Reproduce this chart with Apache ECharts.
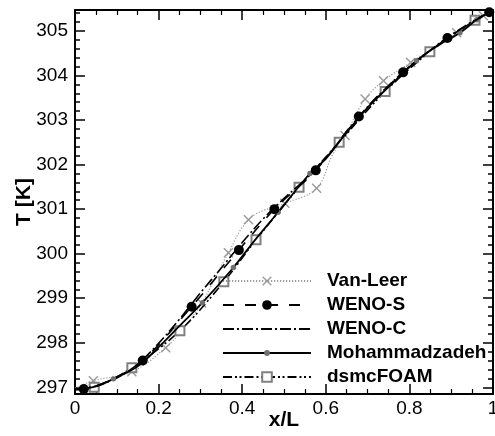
<!DOCTYPE html>
<html>
<head>
<meta charset="utf-8">
<script src="https://cdn.jsdelivr.net/npm/echarts@6/dist/echarts.min.js"></script>
<style>
  html, body { margin: 0; padding: 0; background: #fff; }
  #chart { width: 495px; height: 436px; }
</style>
</head>
<body>
<div id="chart"></div>
<script>
// Tick values
const xTicks = [0, 0.2, 0.4, 0.6, 0.8, 1];
const yTicks = [297, 298, 299, 300, 301, 302, 303, 304, 305];

// Van-Leer (dotted, x markers)
const vanLeerX = [0, 0.044, 0.136, 0.217, 0.259, 0.303, 0.367, 0.415, 0.474, 0.502, 0.578, 0.615, 0.646, 0.694, 0.738, 0.803, 0.913, 0.977, 1.0];
const vanLeerY = [296.98, 297.15, 297.35, 297.89, 298.33, 298.89, 300.02, 300.76, 301.06, 301.13, 301.47, 302.2, 302.65, 303.47, 303.88, 304.29, 304.96, 305.34, 305.45];
const vanLeerMark = [0, 1, 1, 1, 0, 1, 1, 1, 0, 1, 1, 0, 1, 1, 1, 1, 1, 1, 0];

// WENO-S (dashed, filled circles)
const wenoSX = [0, 0.021, 0.09, 0.162, 0.279, 0.392, 0.477, 0.576, 0.679, 0.785, 0.891, 0.991, 1.0];
const wenoSY = [296.95, 296.96, 297.19, 297.6, 298.81, 300.08, 301.0, 301.87, 303.08, 304.07, 304.84, 305.42, 305.46];
const wenoSMark = [0, 1, 0, 1, 1, 1, 1, 1, 1, 1, 1, 1, 0];

// WENO-C (dash-dot, no markers)
const wenoCX = [0, 0.05, 0.1, 0.15, 0.2, 0.25, 0.3, 0.35, 0.4, 0.45, 0.5, 0.55, 0.6, 0.65, 0.7, 0.75, 0.8, 0.85, 0.9, 0.95, 1.0];
const wenoCY = [296.95, 297.03, 297.21, 297.52, 297.99, 298.53, 299.12, 299.68, 300.25, 300.78, 301.24, 301.66, 302.15, 302.74, 303.3, 303.77, 304.2, 304.57, 304.91, 305.21, 305.47];

// Mohammadzadeh (solid, small dots)
const mohX = [0, 0.05, 0.092, 0.15, 0.2, 0.25, 0.305, 0.379, 0.43, 0.486, 0.562, 0.6, 0.65, 0.7, 0.75, 0.817, 0.87, 0.921, 0.961, 1.0];
const mohY = [296.95, 297.02, 297.19, 297.47, 297.9, 298.38, 298.9, 299.69, 300.3, 300.93, 301.8, 302.13, 302.72, 303.28, 303.74, 304.33, 304.68, 304.96, 305.25, 305.46];
const mohMark = [0, 0, 1, 0, 0, 0, 1, 1, 0, 1, 1, 0, 0, 0, 0, 1, 0, 1, 1, 0];

// dsmcFOAM (dash-dot-dot, open squares)
const dsmcX = [0, 0.046, 0.136, 0.251, 0.356, 0.433, 0.536, 0.632, 0.742, 0.849, 0.957, 1.0];
const dsmcY = [296.95, 297.0, 297.44, 298.27, 299.37, 300.31, 301.49, 302.5, 303.64, 304.53, 305.24, 305.46];
const dsmcMark = [0, 1, 1, 1, 1, 1, 1, 1, 1, 1, 1, 0];

const yMin = 296.85, yMax = 305.47;
const FONT = '"Liberation Sans", Arial, Helvetica, sans-serif';

// minor y ticks every 0.2 K between the integer ticks
const yMinor = [];
for (let k = Math.ceil(yMin * 5); k <= Math.floor(yMax * 5); k++) {
  if (k % 5 !== 0) yMinor.push(k / 5);
}

function pts(xs, ys, marks) {
  return xs.map((x, i) => (!marks || marks[i]) ? [x, ys[i]] : { value: [x, ys[i]], symbol: 'none' });
}

const crossPath = 'path://M0,1L1,0L5,4L9,0L10,1L6,5L10,9L9,10L5,6L1,10L0,9L4,5Z';
const dotPath = 'path://M0,0M10,10M8,5A3,3,0,1,1,2,5A3,3,0,1,1,8,5Z';

function yAxisDef(pos, ticks, len, withLine, withLabels) {
  return {
    type: 'value', position: pos, min: yMin, max: yMax,
    axisLine: { show: withLine, onZero: false, lineStyle: { color: '#000', width: 2 } },
    axisTick: { show: true, inside: true, length: len, customValues: ticks, lineStyle: { color: '#000', width: 1.5 } },
    axisLabel: withLabels
      ? { show: true, customValues: yTicks, fontSize: 19, color: '#000', fontFamily: FONT, margin: 7 }
      : { show: false },
    splitLine: { show: false },
    minorTick: { show: false }
  };
}

function xAxisDef(pos, withLabels) {
  const a = {
    type: 'value', position: pos, min: 0, max: 1, interval: 0.2,
    axisLine: { show: true, onZero: false, lineStyle: { color: '#000', width: 2 } },
    axisTick: { show: true, inside: true, length: 10, lineStyle: { color: '#000', width: 1.5 } },
    minorTick: { show: true, splitNumber: 4, length: 5, lineStyle: { color: '#000', width: 1.2 } },
    axisLabel: withLabels
      ? { show: true, fontSize: 19, color: '#000', fontFamily: FONT, margin: 5,
          formatter: v => String(xTicks.find(t => Math.abs(t - v) < 1e-9) ?? v) }
      : { show: false },
    splitLine: { show: false }
  };
  if (withLabels) {
    a.name = 'x/L';
    a.nameLocation = 'middle';
    a.nameGap = 16;
    a.nameMoveOverlap = false;
    a.nameTextStyle = { fontSize: 21, fontWeight: 'bold', color: '#000', fontFamily: FONT };
  }
  return a;
}

const yLeft = yAxisDef('left', yTicks, 10, true, true);
yLeft.name = 'T [K]';
yLeft.nameLocation = 'middle';
yLeft.nameRotate = 90;
yLeft.nameGap = 40;
yLeft.nameMoveOverlap = false;
yLeft.nameTextStyle = { fontSize: 21, fontWeight: 'bold', color: '#000', fontFamily: FONT };

const common = { type: 'line', xAxisIndex: 0, yAxisIndex: 0, showSymbol: true, showAllSymbol: true, animation: false };

const option = {
  animation: false,
  backgroundColor: '#fff',
  grid: { left: 75, right: 2, top: 10, bottom: 42, containLabel: false, outerBoundsMode: 'none' },
  xAxis: [xAxisDef('bottom', true), xAxisDef('top', false)],
  yAxis: [
    yLeft,
    yAxisDef('left', yMinor, 5, false, false),
    yAxisDef('right', yTicks, 10, true, false),
    yAxisDef('right', yMinor, 5, false, false)
  ],
  legend: {
    orient: 'vertical', left: 217, top: 266,
    itemWidth: 88, itemHeight: 12, itemGap: 4,
    selectedMode: false,
    data: ['Van-Leer', 'WENO-S', 'WENO-C', 'Mohammadzadeh', 'dsmcFOAM'],
    textStyle: { fontSize: 19, fontWeight: 'bold', color: '#000', fontFamily: FONT, lineHeight: 20, padding: [0, 0, 0, 11] }
  },
  series: [
    Object.assign({}, common, {
      name: 'Van-Leer', z: 2, smooth: 0.4,
      data: pts(vanLeerX, vanLeerY, vanLeerMark),
      symbol: crossPath, symbolSize: 10,
      itemStyle: { color: '#9a9a9a', borderWidth: 0 },
      lineStyle: { color: '#9a9a9a', width: 1.2, type: [1.2, 1.8] }
    }),
    Object.assign({}, common, {
      name: 'dsmcFOAM', z: 3, smooth: 0.35,
      data: pts(dsmcX, dsmcY, dsmcMark),
      symbol: 'emptyRect', symbolSize: 9,
      itemStyle: { color: '#808080', borderColor: '#808080', borderWidth: 1.2 },
      lineStyle: { color: '#000', width: 1.6, type: [9, 3, 2, 2.5, 2, 3] }
    }),
    Object.assign({}, common, {
      name: 'WENO-C', z: 4, smooth: 0.35,
      data: pts(wenoCX, wenoCY, null),
      symbol: 'circle', symbolSize: 0,
      itemStyle: { color: 'rgba(0,0,0,0)', borderWidth: 0 },
      lineStyle: { color: '#000', width: 1.6, type: [11, 3, 2, 3] }
    }),
    Object.assign({}, common, {
      name: 'Mohammadzadeh', z: 5, smooth: 0.35,
      data: pts(mohX, mohY, mohMark),
      symbol: dotPath, symbolSize: 9,
      itemStyle: { color: '#707070', borderWidth: 0 },
      lineStyle: { color: '#000', width: 1.8, type: 'solid' }
    }),
    Object.assign({}, common, {
      name: 'WENO-S', z: 6, smooth: 0.35,
      data: pts(wenoSX, wenoSY, wenoSMark),
      symbol: 'circle', symbolSize: 10,
      itemStyle: { color: '#000', borderWidth: 0 },
      lineStyle: { color: '#000', width: 1.6, type: [11, 11] }
    })
  ]
};

const chart = echarts.init(document.getElementById('chart'), null, { renderer: 'canvas' });
chart.setOption(option);
</script>
</body>
</html>
